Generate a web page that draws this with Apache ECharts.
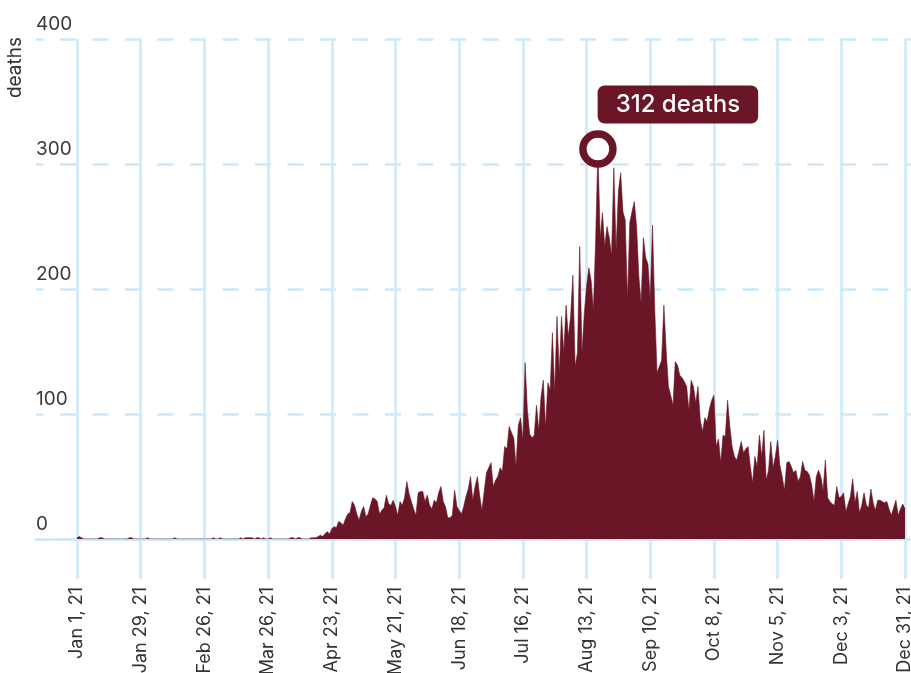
<!DOCTYPE html>
<html>
<head>
<meta charset="utf-8">
<script src="https://cdn.jsdelivr.net/npm/echarts@6/dist/echarts.min.js"></script>
<style>
html,body{margin:0;padding:0;background:#fff;}
#chart{width:911px;height:673px;}
</style>
</head>
<body>
<div id="chart"></div>
<script>
// Daily deaths, Jan 1 2021 (index 0) to Dec 31 2021 (index 364)
const deaths = [
  1,2,1,0,0,0,0,0,0,0,
  1,1,0,0,0,0,0,0,0,0,
  0,0,0,1,1,0,0,0,0,0,
  0,1,0,0,0,0,0,0,0,0,
  0,0,0,1,0,0,0,0,0,0,
  0,0,0,0,0,0,0,0,0,0,
  1,0,0,1,0,0,0,0,0,0,
  0,0,1,0,1,1,1,1,0,1,
  1,0,1,0,0,1,0,0,0,0,
  0,0,0,0,1,1,0,1,1,0,
  0,0,0,1,1,1,2,3,2,4,
  6,4,8,10,9,14,13,11,16,20,
  21,30,27,20,15,22,26,18,20,27,
  33,32,30,20,23,25,35,28,27,31,
  26,19,30,27,33,46,36,30,24,19,
  37,38,38,30,35,27,24,31,29,37,
  42,30,26,17,17,19,39,26,23,20,
  26,34,40,50,31,42,50,35,23,38,
  53,57,61,42,47,50,57,54,74,72,
  90,85,81,58,91,97,79,141,103,84,
  81,83,107,87,114,127,89,125,119,165,
  117,178,133,178,149,187,162,178,211,138,
  149,234,149,180,202,217,207,183,239,312,
  241,261,234,250,241,227,297,231,278,293,
  262,255,191,253,262,270,250,210,189,241,
  225,220,191,251,183,133,138,143,187,151,
  122,115,107,142,139,131,129,126,122,103,
  127,122,109,122,95,86,97,94,104,111,
  115,74,80,61,83,82,111,90,74,66,
  63,70,78,69,72,74,58,45,66,58,
  83,66,87,47,55,78,57,66,79,59,
  50,39,61,62,58,53,55,46,50,62,
  55,54,51,43,30,50,55,50,39,63,
  33,30,28,27,42,33,34,37,22,28,
  34,48,29,38,21,27,37,27,25,40,
  29,23,31,31,30,29,30,24,19,25,
  31,19,24,28,24
];
const tickLabels = ["Jan 1, 21","Jan 29, 21","Feb 26, 21","Mar 26, 21","Apr 23, 21","May 21, 21","Jun 18, 21","Jul 16, 21","Aug 13, 21","Sep 10, 21","Oct 8, 21","Nov 5, 21","Dec 3, 21","Dec 31, 21"];
const yTicks = [0,100,200,300,400];
const yName = "deaths";

const RED = '#6a1626';
const GRID = '#cbe9fa';
const FONT = 'Inter, "Noto Sans", sans-serif';

let peakIdx = 0;
deaths.forEach((v,i)=>{ if (v > deaths[peakIdx]) peakIdx = i; });

const chart = echarts.init(document.getElementById('chart'), null, {renderer:'canvas'});
chart.setOption({
  animation: false,
  backgroundColor: '#fff',
  grid: [
    {left: 77, right: 6, top: 39, bottom: 134, containLabel: false, outerBoundsMode: 'none'},
    {left: 36, right: 0, top: 39, bottom: 134, containLabel: false, outerBoundsMode: 'none'}
  ],
  xAxis: [
    {
      type: 'value', gridIndex: 0, min: 0, max: 364, interval: 28,
      axisLine: {show: false},
      axisTick: {show: true, length: 40, lineStyle: {color: GRID, width: 2.5}},
      splitLine: {show: true, lineStyle: {color: GRID, width: 2.5, type: 'solid'}},
      axisLabel: {
        show: true, rotate: 90, margin: 48, fontSize: 18, color: '#333', fontFamily: FONT,
        showMinLabel: true, showMaxLabel: true, hideOverlap: false,
        formatter: v => tickLabels[Math.round(v/28)] || ''
      }
    },
    {
      type: 'value', gridIndex: 1, min: 0, max: 1,
      axisLine: {show: true, onZero: false, lineStyle: {color: GRID, width: 2.5}},
      axisTick: {show: false}, axisLabel: {show: false}, splitLine: {show: false}
    }
  ],
  yAxis: [
    {
      type: 'value', gridIndex: 0, min: 0, max: 400, interval: 100,
      axisLine: {show: false}, axisTick: {show: false}, axisLabel: {show: false}, splitLine: {show: false}
    },
    {
      type: 'value', gridIndex: 1, min: 0, max: 400, interval: 100,
      axisLine: {show: false}, axisTick: {show: false},
      splitLine: {show: true, lineStyle: {color: GRID, width: 2.5, type: [16, 16.5], dashOffset: 8.5}},
      axisLabel: {
        show: true, inside: true, margin: 0, fontSize: 19, color: '#3a3a3a', fontFamily: FONT,
        verticalAlign: 'bottom', lineHeight: 19, padding: [0,0,5,0],
        formatter: v => yTicks.includes(v) ? String(v) : ''
      }
    }
  ],
  graphic: [{
    type: 'text', left: 6, top: 37,
    rotation: Math.PI / 2,
    style: {text: yName, fontSize: 19, fontFamily: 'Inter', fontWeight: 'normal', fill: '#333'}
  }],
  series: [{
    type: 'line', xAxisIndex: 0, yAxisIndex: 0,
    data: deaths.map((v,i)=>[i,v]),
    showSymbol: false, symbol: 'none',
    lineStyle: {color: RED, width: 0.6},
    areaStyle: {color: RED, opacity: 1},
    z: 3,
    markPoint: {
      symbol: 'circle', symbolSize: 30,
      itemStyle: {color: '#fff', borderColor: RED, borderWidth: 7.5},
      data: [{coord: [peakIdx, deaths[peakIdx]], value: deaths[peakIdx]}],
      label: {
        show: true, position: 'inside', offset: [80, -44.5],
        formatter: p => p.value + ' deaths',
        backgroundColor: RED, color: '#fff', fontSize: 24, fontWeight: 500, fontFamily: FONT,
        padding: [6, 18, 6, 18], borderRadius: 7, lineHeight: 26
      },
      z: 10
    }
  }]
});
</script>
</body>
</html>
